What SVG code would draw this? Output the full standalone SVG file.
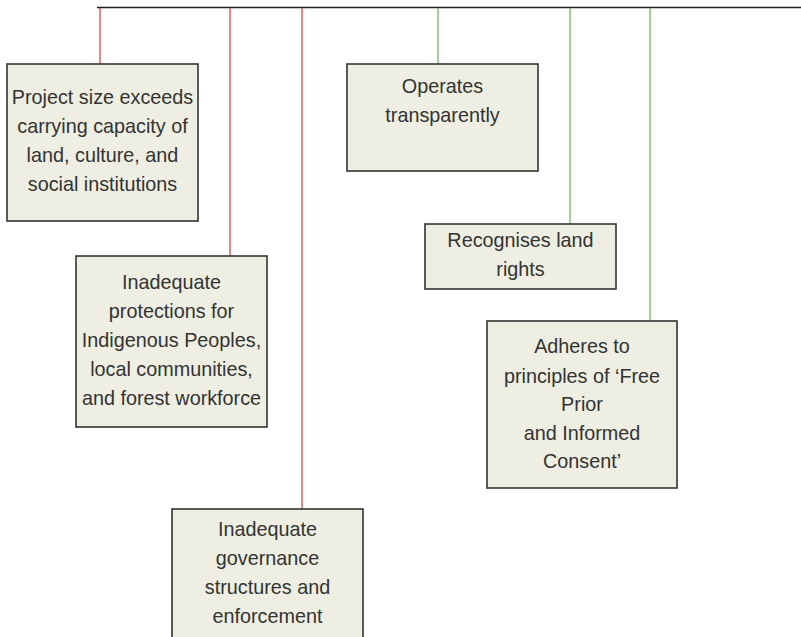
<svg xmlns="http://www.w3.org/2000/svg" width="801" height="637" viewBox="0 0 801 637">
<style>
.box{fill:#eeeee2;stroke:#333;stroke-width:1.6}
.t{font-family:"Liberation Sans",Arial,sans-serif;font-size:19.8px;fill:#333;text-anchor:middle}
.red{stroke:#e8323c;stroke-width:1.2;fill:none}
.green{stroke:#6aaa4e;stroke-width:1.2;fill:none}
</style>
<rect width="801" height="637" fill="#fff"/>
<g id="connectors">
<line x1="97" y1="7.5" x2="801" y2="7.5" stroke="#222" stroke-width="1.5"/>
<line class="red" x1="100" y1="8" x2="100" y2="64"/>
<line class="red" x1="230" y1="8" x2="230" y2="256"/>
<line class="red" x1="302" y1="8" x2="302" y2="509"/>
<line class="green" x1="438" y1="8" x2="438" y2="64"/>
<line class="green" x1="570" y1="8" x2="570" y2="224"/>
<line class="green" x1="650" y1="8" x2="650" y2="321"/>
</g>
<g id="n1">
<rect class="box" x="7" y="64" width="191" height="157"/>
<text class="t" x="102.5" y="104">Project size exceeds</text>
<text class="t" x="102.5" y="133">carrying capacity of</text>
<text class="t" x="102.5" y="162">land, culture, and</text>
<text class="t" x="102.5" y="191">social institutions</text>
</g>
<g id="n2">
<rect class="box" x="76" y="256" width="191" height="171"/>
<text class="t" x="171.5" y="289">Inadequate</text>
<text class="t" x="171.5" y="318">protections for</text>
<text class="t" x="171.5" y="347">Indigenous Peoples,</text>
<text class="t" x="171.5" y="376">local communities,</text>
<text class="t" x="171.5" y="405">and forest workforce</text>
</g>
<g id="n3">
<rect class="box" x="172" y="509" width="191" height="160"/>
<text class="t" x="267.5" y="536">Inadequate</text>
<text class="t" x="267.5" y="565">governance</text>
<text class="t" x="267.5" y="594">structures and</text>
<text class="t" x="267.5" y="623">enforcement</text>
</g>
<g id="n4">
<rect class="box" x="347" y="64" width="191" height="107"/>
<text class="t" x="442.5" y="93">Operates</text>
<text class="t" x="442.5" y="122">transparently</text>
</g>
<g id="n5">
<rect class="box" x="425" y="224" width="191" height="65"/>
<text class="t" x="520.5" y="247">Recognises land</text>
<text class="t" x="520.5" y="276">rights</text>
</g>
<g id="n6">
<rect class="box" x="487" y="321" width="190" height="167"/>
<text class="t" x="582" y="353">Adheres to</text>
<text class="t" x="582" y="383">principles of ‘Free</text>
<text class="t" x="582" y="411">Prior</text>
<text class="t" x="582" y="440">and Informed</text>
<text class="t" x="582" y="468">Consent’</text>
</g>
</svg>
